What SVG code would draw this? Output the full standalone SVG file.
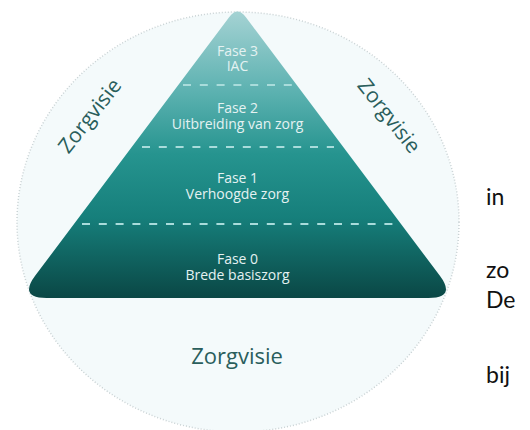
<svg xmlns="http://www.w3.org/2000/svg" width="530" height="430" viewBox="0 0 530 430">
  <defs>
    <linearGradient id="pyrGrad" gradientUnits="userSpaceOnUse" x1="0" y1="10" x2="0" y2="298">
      <stop offset="0" stop-color="#a6d3d4"/>
      <stop offset="0.28" stop-color="#5db2b1"/>
      <stop offset="0.5" stop-color="#26948f"/>
      <stop offset="0.72" stop-color="#167f7b"/>
      <stop offset="1" stop-color="#0a4745"/>
    </linearGradient>
    <style>
      .ptxt { font-family: "Open Sans", "DejaVu Sans", sans-serif; font-size: 14px; fill: #e4f2f2; text-anchor: middle; }
      .zv { font-family: "Open Sans", "DejaVu Sans", sans-serif; font-size: 21px; fill: #2a5e5c; text-anchor: middle; }
      .dash { stroke: #a9dcdb; stroke-width: 2; stroke-dasharray: 8 8.8; fill: none; }
      .side { font-family: "Lato", "Liberation Sans", sans-serif; font-size: 23px; fill: #111111; }
    </style>
  </defs>
  <rect width="530" height="430" fill="#ffffff"/>
  <g id="circle">
    <ellipse cx="238" cy="222" rx="221" ry="210" fill="#f4fafb" stroke="#c9d2d4" stroke-width="1.5" stroke-dasharray="1 2"/>
  </g>
  <g id="pyramid">
    <path d="M229.1,17.2 Q237.5,6 245.9,17.2 L439.7,275.6 Q456.5,298 428.5,298 L46.5,298 Q18.5,298 35.3,275.6 Z" fill="url(#pyrGrad)"/>
  </g>
  <g id="connectors">
    <line class="dash" x1="183" y1="85" x2="293" y2="85"/>
    <line class="dash" x1="142" y1="147" x2="334" y2="147"/>
    <line class="dash" x1="82" y1="224" x2="393" y2="224"/>
  </g>
  <g id="fase3">
    <text class="ptxt" x="237.5" y="56">Fase 3</text>
    <text class="ptxt" x="237.5" y="71">IAC</text>
  </g>
  <g id="fase2">
    <text class="ptxt" x="237.5" y="113">Fase 2</text>
    <text class="ptxt" x="237.5" y="129">Uitbreiding van zorg</text>
  </g>
  <g id="fase1">
    <text class="ptxt" x="237.5" y="183">Fase 1</text>
    <text class="ptxt" x="237.5" y="199">Verhoogde zorg</text>
  </g>
  <g id="fase0">
    <text class="ptxt" x="237.5" y="264">Fase 0</text>
    <text class="ptxt" x="237.5" y="280">Brede basiszorg</text>
  </g>
  <g id="zorgvisie-left">
    <text class="zv" transform="translate(90,116) rotate(-52)" y="7">Zorgvisie</text>
  </g>
  <g id="zorgvisie-right">
    <text class="zv" transform="translate(389,116) rotate(52)" y="7">Zorgvisie</text>
  </g>
  <g id="zorgvisie-bottom">
    <text class="zv" x="237" y="364" style="font-size:22px">Zorgvisie</text>
  </g>
  <g id="side-text">
    <text class="side" x="486" y="205">in</text>
    <text class="side" x="486" y="278">zo</text>
    <text class="side" x="486" y="308">De</text>
    <text class="side" x="486" y="383">bij</text>
  </g>
</svg>
